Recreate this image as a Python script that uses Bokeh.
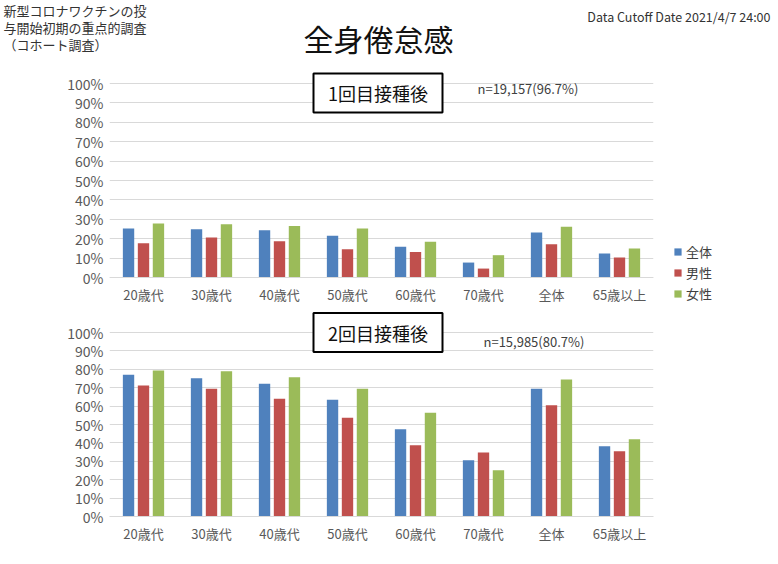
from bokeh.plotting import figure
from bokeh.models import (ColumnDataSource, FactorRange, NumeralTickFormatter, Label,
                          Legend, LegendItem, FixedTicker, Range1d, BoxAnnotation)
from bokeh.transform import dodge
from bokeh.layouts import row
from bokeh.embed import file_html
from bokeh.resources import INLINE

categories = ["20歳代", "30歳代", "40歳代", "50歳代", "60歳代", "70歳代", "全体", "65歳以上"]
series_names = ["全体", "男性", "女性"]
colors = ["#4F81BD", "#C0504D", "#9BBB59"]

dose1_all = [25.3, 24.9, 24.4, 21.5, 15.8, 7.7, 23.2, 12.4]
dose1_male = [17.7, 20.6, 18.7, 14.6, 13.2, 4.6, 17.2, 10.3]
dose1_female = [27.8, 27.5, 26.5, 25.3, 18.4, 11.5, 26.1, 14.9]

dose2_all = [77.1, 75.1, 72.1, 63.4, 47.4, 30.6, 69.4, 38.2]
dose2_male = [71.2, 69.4, 64.0, 53.7, 38.7, 34.8, 60.4, 35.5]
dose2_female = [79.3, 78.9, 75.7, 69.4, 56.4, 25.2, 74.4, 42.0]

y_ticks = [i / 10 for i in range(11)]

FONT = "Noto Sans CJK JP"
W = 778


def make_src(all_v, male_v, female_v):
    return ColumnDataSource(dict(cat=categories,
                                 a=[v / 100 for v in all_v],
                                 m=[v / 100 for v in male_v],
                                 f=[v / 100 for v in female_v]))


src1 = make_src(dose1_all, dose1_male, dose1_female)
src2 = make_src(dose2_all, dose2_male, dose2_female)

# ---------- header ----------
hdr = figure(width=W, height=68, x_range=Range1d(0, 1), y_range=Range1d(0, 1),
             output_backend="svg", toolbar_location=None, x_axis_type=None, y_axis_type=None,
             min_border_left=0, min_border_right=0, min_border_top=0, min_border_bottom=0)
hdr.outline_line_color = None
hdr.grid.visible = False
hdr.add_layout(Label(x=378, y=31, x_units="screen", y_units="screen", text="全身倦怠感",
                     text_font=FONT, text_font_size="30px", text_color="#111111",
                     text_align="center", text_baseline="middle"))
for i, line in enumerate(["新型コロナワクチンの投", "与開始初期の重点的調査", "（コホート調査）"]):
    hdr.add_layout(Label(x=3, y=58 - 17 * i, x_units="screen", y_units="screen", text=line,
                         text_font=FONT, text_font_size="13px", text_color="#333333",
                         text_align="left", text_baseline="middle"))
hdr.add_layout(Label(x=770, y=52, x_units="screen", y_units="screen",
                     text="Data Cutoff Date 2021/4/7 24:00",
                     text_font=FONT, text_font_size="12.5px", text_color="#333333",
                     text_align="right", text_baseline="middle"))


def make_fig(src, width, height, right, bottom, y_start, y_end, fixed_axis):
    p = figure(x_range=FactorRange(*categories), y_range=Range1d(y_start, y_end),
               width=width, height=height, output_backend="svg", toolbar_location=None,
               min_border_left=109, min_border_right=right,
               min_border_top=0, min_border_bottom=bottom)
    p.outline_line_color = None
    p.background_fill_color = "white"
    rs = []
    for key, off, col in zip(["a", "m", "f"], [-0.22, 0.0, 0.22], colors):
        rs.append(p.vbar(x=dodge("cat", off, range=p.x_range), top=key, width=0.167,
                         source=src, fill_color=col, line_color=None))
    p.xgrid.grid_line_color = None
    p.ygrid.grid_line_color = "#d9d9d9"
    p.ygrid.grid_line_width = 1
    p.ygrid.ticker = FixedTicker(ticks=y_ticks)
    p.yaxis.ticker = FixedTicker(ticks=y_ticks)
    p.yaxis.formatter = NumeralTickFormatter(format="0%")
    p.yaxis.axis_line_color = None
    p.yaxis.major_tick_line_color = None
    p.yaxis.minor_tick_line_color = None
    p.yaxis.major_tick_out = 0
    p.yaxis.major_label_standoff = 6
    p.yaxis.major_label_text_font = FONT
    p.yaxis.major_label_text_font_size = "14px"
    p.yaxis.major_label_text_color = "#595959"
    if fixed_axis:
        p.xaxis.fixed_location = 0
    p.xaxis.axis_line_color = "#d9d9d9"
    p.xaxis.major_tick_line_color = None
    p.xaxis.major_tick_out = 0
    p.xaxis.major_label_standoff = 7
    p.xaxis.major_label_text_font = FONT
    p.xaxis.major_label_text_font_size = "13px"
    p.xaxis.major_label_text_color = "#595959"
    return p


# first chart: frame spans the whole canvas height, x axis drawn at 0
p1 = make_fig(src1, 668, 235, 15, 0, -26 / 194, 209 / 194, True)
p2 = make_fig(src2, W, 253, 125, 40, 0, 213 / 184, False)

for p, by, nx, ny, btxt, ntxt in [(p1, 210.5, 368, 215, "1回目接種後", "n=19,157(96.7%)"),
                                  (p2, 184, 374, 175, "2回目接種後", "n=15,985(80.7%)")]:
    p.add_layout(BoxAnnotation(left=204, right=333, bottom=by - 19.5, top=by + 19.5,
                               left_units="screen", right_units="screen",
                               bottom_units="screen", top_units="screen",
                               fill_color="white", fill_alpha=1.0,
                               line_color="black", line_width=2, line_alpha=1.0))
    p.add_layout(Label(x=268.5, y=by, x_units="screen", y_units="screen", text=btxt,
                       text_font=FONT, text_font_size="18px", text_color="#111111",
                       text_align="center", text_baseline="middle"))
    p.add_layout(Label(x=nx, y=ny, x_units="screen", y_units="screen", text=ntxt,
                       text_font=FONT, text_font_size="13px", text_color="#404040",
                       text_align="left", text_baseline="middle"))

# ---------- legend canvas to the right of the first chart ----------
legfig = figure(width=W - 668, height=235, x_range=FactorRange(*categories),
                y_range=Range1d(-10, -9), output_backend="svg", toolbar_location=None,
                x_axis_type=None, y_axis_type=None,
                min_border_left=0, min_border_right=0, min_border_top=0, min_border_bottom=0)
legfig.outline_line_color = None
legfig.grid.visible = False
leg_rs = [legfig.vbar(x="cat", top=key, width=0, source=src1, fill_color=c, line_color=None)
          for key, c in zip(["a", "m", "f"], colors)]
legend = Legend(items=[LegendItem(label=n, renderers=[r]) for n, r in zip(series_names, leg_rs)],
                location=(5, 0), orientation="vertical", margin=0,
                label_text_font=FONT, label_text_font_size="13px", label_text_color="#404040",
                glyph_width=9, glyph_height=9, label_standoff=4, label_height=17,
                spacing=2, padding=0, border_line_color=None, background_fill_alpha=0)
legfig.add_layout(legend, "center")

open("out.html", "w").write(file_html([hdr, row(p1, legfig), p2], INLINE))
